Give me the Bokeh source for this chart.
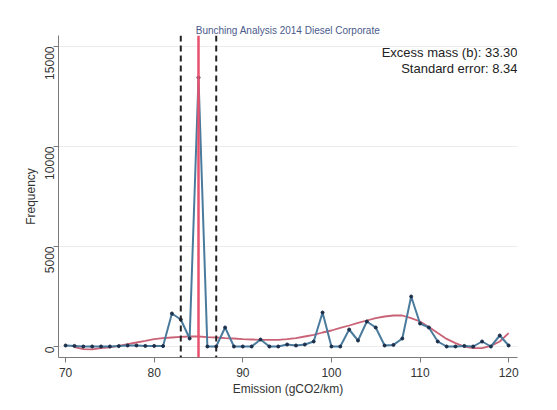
import math
from bokeh.plotting import figure
from bokeh.models import Span, Label, FixedTicker, Range1d
from bokeh.embed import file_html
from bokeh.resources import INLINE

emission = list(range(70, 121))
frequency = [50, 30, 0, 0, 0, 0, 20, 50, 50, 30,
             30, 20, 1650, 1350, 400, 13450, 0, 0, 950, 0,
             0, 0, 350, 0, 0, 100, 50, 100, 250, 1700,
             0, 0, 850, 300, 1250, 950, 50, 80, 400, 2500,
             1150, 950, 250, 0, 0, 30, 0, 250, 0, 550,
             50]

fit_x = list(range(71, 121))
fit_y = [-30, -130, -140, -80, -40, 30, 120, 200, 280, 370,
         420, 450, 480, 500, 500, 470, 450, 420, 400, 370,
         350, 330, 330, 330, 370, 420, 500, 580, 700, 800,
         930, 1050, 1180, 1300, 1420, 1500, 1550, 1550, 1420, 1250,
         970, 670, 380, 170, 0, -80, -80, 30, 250, 670]

threshold = 85
window = [83, 87]
x_ticks = [70, 80, 90, 100, 110, 120]
y_ticks = [0, 5000, 10000, 15000]
title_text = "Bunching Analysis 2014 Diesel Corporate"
notes = ["Excess mass (b): 33.30", "Standard error: 8.34"]

FONT = "Liberation Sans"
LEFT, BOTTOM = 58, 53
H = 410

p = figure(width=557, height=H, output_backend="svg", toolbar_location=None,
           x_range=Range1d(69.2, 121.0), y_range=Range1d(-550, 15550),
           min_border_left=LEFT, min_border_right=40, min_border_top=35,
           min_border_bottom=BOTTOM, title=title_text)
p.outline_line_color = None
p.background_fill_color = "white"
p.border_fill_color = "white"

p.title.align = "center"
p.title.text_font = FONT
p.title.text_font_size = "10px"
p.title.text_font_style = "normal"
p.title.text_color = "#4a5a8c"
p.title.standoff = 0

p.xgrid.grid_line_color = None
p.ygrid.grid_line_color = "#ececec"
p.ygrid.ticker = FixedTicker(ticks=y_ticks)

for ax in (p.xaxis[0], p.yaxis[0]):
    ax.axis_line_color = "#7a7a7a"
    ax.major_tick_line_color = "#7a7a7a"
    ax.minor_tick_line_color = None
    ax.major_tick_out = 5
    ax.major_tick_in = 0
    ax.major_label_text_font = FONT
    ax.major_label_text_font_size = "12px"
    ax.major_label_text_color = "#333333"
    ax.axis_label_text_font = FONT
    ax.axis_label_text_font_size = "12px"
    ax.axis_label_text_font_style = "normal"
    ax.axis_label_text_color = "#333333"

p.xaxis.ticker = FixedTicker(ticks=x_ticks)
p.yaxis.ticker = FixedTicker(ticks=y_ticks)
p.yaxis.major_label_orientation = math.pi / 2
p.xaxis.axis_label = "Emission (gCO2/km)"
p.yaxis.axis_label = "Frequency"
p.xaxis.axis_label_standoff = 2
p.yaxis.axis_label_standoff = 0
p.yaxis.major_label_standoff = 4

# smooth counterfactual
p.line(fit_x, fit_y, line_color="#c0475e", line_width=1.8, line_alpha=0.85)
# observed
p.line(emission, frequency, line_color="#4a7b9d", line_width=2)
p.scatter(emission, frequency, size=3, color="#1c2f4a")

p.add_layout(Span(location=threshold, dimension="height", line_color="#e8506e", line_width=2.5))
for w in window:
    p.add_layout(Span(location=w, dimension="height", line_color="#222222",
                      line_width=2, line_dash="6 4"))

def frame_label(px, py, text, size, color, align):
    return Label(x=px - LEFT, y=(H - BOTTOM) - py, x_units="screen", y_units="screen",
                 text=text, text_font=FONT, text_font_size=size, text_color=color,
                 text_align=align, text_baseline="middle")

p.add_layout(frame_label(517, 52, notes[0], "13px", "#222222", "right"))
p.add_layout(frame_label(517, 68, notes[1], "13px", "#222222", "right"))

open("out.html", "w").write(file_html(p, INLINE))
